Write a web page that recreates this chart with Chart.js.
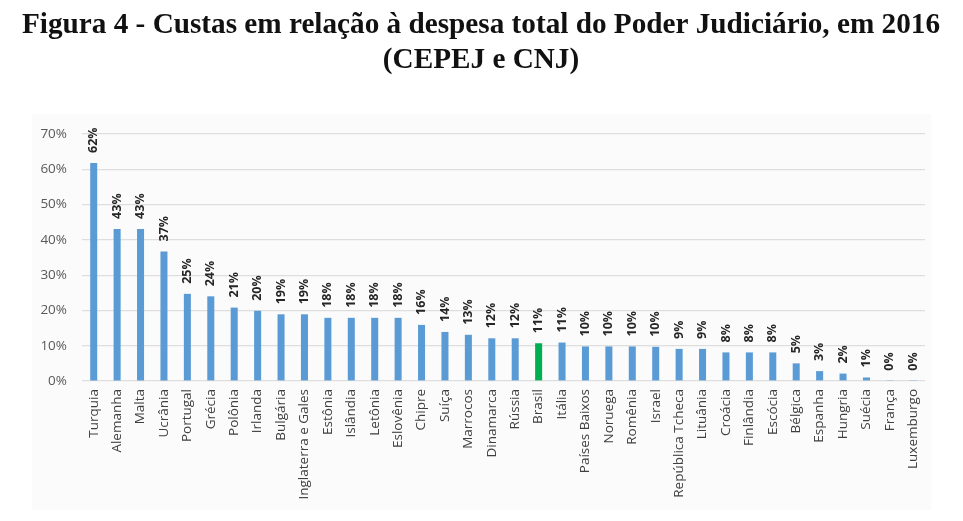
<!DOCTYPE html>
<html>
<head>
<meta charset="utf-8">
<script src="https://cdn.jsdelivr.net/npm/chart.js@4"></script>
<style>
  html, body { margin: 0; padding: 0; background: #fff; }
  #wrap { width: 963px; height: 521px; position: relative; }
</style>
</head>
<body>
<div id="wrap"><canvas id="custasChart"></canvas></div>
<script>
// dados (custas / despesa total, %)
const paises = ['Turquia', 'Alemanha', 'Malta', 'Ucrânia', 'Portugal', 'Grécia', 'Polônia', 'Irlanda',
    'Bulgária', 'Inglaterra e Gales', 'Estônia', 'Islândia', 'Letônia', 'Eslovênia', 'Chipre', 'Suíça',
    'Marrocos', 'Dinamarca', 'Rússia', 'Brasil', 'Itália', 'Países Baixos', 'Noruega', 'Romênia', 'Israel',
    'República Tcheca', 'Lituânia', 'Croácia', 'Finlândia', 'Escócia', 'Bélgica', 'Espanha', 'Hungria',
    'Suécia', 'França', 'Luxemburgo'];
const custas = [61.8, 43.1, 43.1, 36.7, 24.7, 24.0, 20.8, 19.9, 18.9, 18.9, 17.9, 17.9, 17.9, 17.9, 15.9, 13.9,
    13.1, 12.1, 12.1, 10.7, 10.9, 9.8, 9.8, 9.8, 9.7, 9.1, 9.1, 8.1, 8.1, 8.1, 5.0, 2.8, 2.1, 1.0, 0.1, 0.1];
const rotulos = ['62%', '43%', '43%', '37%', '25%', '24%', '21%', '20%', '19%', '19%', '18%', '18%', '18%',
    '18%', '16%', '14%', '13%', '12%', '12%', '11%', '11%', '10%', '10%', '10%', '10%', '9%', '9%', '8%',
    '8%', '8%', '5%', '3%', '2%', '1%', '0%', '0%'];
const yTicks = [0, 10, 20, 30, 40, 50, 60, 70];

const titulo = ['Figura 4 - Custas em relação à despesa total do Poder Judiciário, em 2016', '(CEPEJ e CNJ)'];

const corBarra = '#5b9bd5';
const corBrasil = '#00b050';
const cores = paises.map(p => p === 'Brasil' ? corBrasil : corBarra);

// fundo cinza claro da área do gráfico + título
const fundoPlugin = {
    id: 'fundo',
    beforeDraw(chart) {
        const ctx = chart.ctx;
        ctx.save();
        ctx.fillStyle = '#ffffff';
        ctx.fillRect(0, 0, chart.width, chart.height);
        ctx.fillStyle = '#fafbfa';
        ctx.fillRect(32, 114, 899, 396);
        ctx.restore();
    },
    afterDraw(chart) {
        const ctx = chart.ctx;
        ctx.save();
        ctx.fillStyle = '#111';
        ctx.font = 'bold 29px "Liberation Serif", "DejaVu Serif", serif';
        ctx.textAlign = 'center';
        ctx.textBaseline = 'alphabetic';
        const larg = ctx.measureText(titulo[0]).width;
        const sx = 918 / larg;
        ctx.translate(481, 0);
        ctx.scale(sx, 1);
        ctx.fillText(titulo[0], 0, 33);
        ctx.fillText(titulo[1], 0, 68);
        ctx.restore();
    }
};

// rótulos de valor na vertical, acima de cada barra
const rotuloPlugin = {
    id: 'rotulos',
    afterDatasetsDraw(chart) {
        const ctx = chart.ctx;
        const meta = chart.getDatasetMeta(0);
        ctx.save();
        ctx.fillStyle = '#262626';
        ctx.font = 'bold 12.5px "Open Sans", sans-serif';
        ctx.textAlign = 'left';
        ctx.textBaseline = 'middle';
        meta.data.forEach((bar, i) => {
            ctx.save();
            ctx.translate(bar.x, bar.y - 10);
            ctx.rotate(-Math.PI / 2);
            ctx.fillText(rotulos[i], 0, 0);
            ctx.restore();
        });
        ctx.restore();
    }
};

new Chart(document.getElementById('custasChart'), {
    type: 'bar',
    data: {
        labels: paises,
        datasets: [{
            data: custas,
            backgroundColor: cores,
            borderWidth: 0,
            barPercentage: 0.3,
            categoryPercentage: 1.0,
        }],
    },
    options: {
        responsive: true,
        maintainAspectRatio: false,
        animation: false,
        layout: { padding: { left: 0, right: 38, top: 134, bottom: 0 } },
        plugins: {
            legend: { display: false },
            tooltip: { enabled: false },
        },
        scales: {
            x: {
                grid: { display: false, drawTicks: false },
                border: { display: false },
                ticks: {
                    color: '#404040',
                    font: { family: '"Open Sans", sans-serif', size: 13.5 },
                    minRotation: 90,
                    maxRotation: 90,
                    padding: 8,
                    autoSkip: false,
                },
                afterFit(scale) { scale.height = 140; },
            },
            y: {
                min: 0,
                max: 70,
                afterBuildTicks(scale) { scale.ticks = yTicks.map(v => ({ value: v })); },
                grid: { color: '#dedede', lineWidth: 1.2, drawTicks: false },
                border: { display: false },
                ticks: {
                    color: '#595959',
                    font: { family: '"Open Sans", sans-serif', size: 13.5 },
                    padding: 15,
                    callback: v => v + '%',
                },
                afterFit(scale) { scale.width = 82; },
            },
        },
    },
    plugins: [fundoPlugin, rotuloPlugin],
});
</script>
</body>
</html>
